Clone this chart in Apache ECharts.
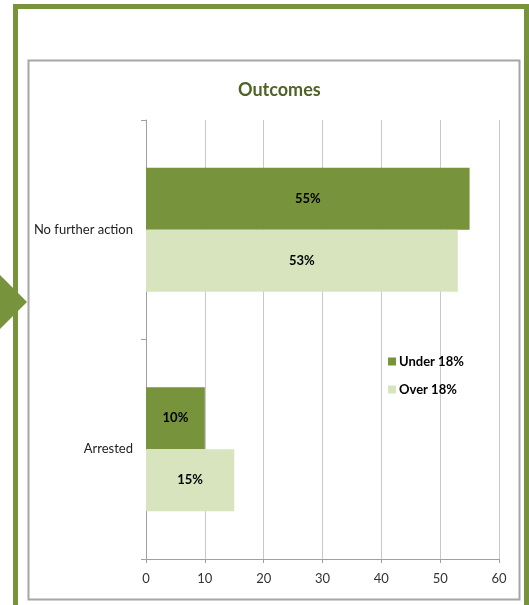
<!DOCTYPE html>
<html>
<head>
<meta charset="utf-8">
<title>Outcomes</title>
<script src="https://cdn.jsdelivr.net/npm/echarts@6/dist/echarts.min.js"></script>
<style>
  html, body { margin: 0; padding: 0; background: #fff; }
  #chart { width: 529px; height: 605px; }
</style>
</head>
<body>
<div id="chart"></div>
<script>
  // data
  var categories = ['No further action', 'Arrested'];
  var under18 = [55, 10];
  var over18 = [53, 15];
  var xTicks = [0, 10, 20, 30, 40, 50, 60];

  var dark = '#77933c';
  var light = '#d7e4bd';

  var myChart = echarts.init(document.getElementById('chart'));

  var labelStyle = {
    show: true,
    position: 'inside',
    color: '#000',
    fontWeight: 'bold',
    fontSize: 13,
    fontFamily: 'Lato',
    formatter: '{c}%'
  };

  myChart.setOption({
    animation: false,
    backgroundColor: '#fff',
    title: {
      text: 'Outcomes',
      left: 233,
      top: 76,
      textStyle: { color: '#4f6228', fontSize: 18, fontWeight: 'bold', fontFamily: 'Lato' }
    },
    // frame, gray chart box and the arrow on the left
    graphic: [
      { type: 'rect', shape: { x: 15.5, y: 6.5, width: 511, height: 640 },
        style: { fill: null, stroke: dark, lineWidth: 5 }, z: -1 },
      { type: 'rect', shape: { x: 28.5, y: 60.5, width: 491, height: 539 },
        style: { fill: null, stroke: '#a6a6a6', lineWidth: 2 }, z: -1 },
      { type: 'polygon', shape: { points: [[0, 275], [27, 302], [0, 329]] },
        style: { fill: dark }, z: 0 }
    ],
    legend: {
      orient: 'vertical',
      left: 383,
      top: 350,
      itemWidth: 8,
      itemHeight: 8,
      itemGap: 15,
      icon: 'rect',
      textStyle: { color: '#000', fontWeight: 'bold', fontSize: 13, fontFamily: 'Lato', padding: [0, 0, 0, -2] },
      data: ['Under 18%', 'Over 18%']
    },
    grid: { left: 146, right: 30, top: 120, bottom: 46, containLabel: false },
    xAxis: {
      type: 'value',
      min: xTicks[0],
      max: xTicks[xTicks.length - 1],
      interval: 10,
      axisLine: { show: true, lineStyle: { color: '#a0a0a0' } },
      axisTick: { show: true, length: 4, lineStyle: { color: '#a0a0a0' } },
      axisLabel: { color: '#333', fontSize: 13, fontFamily: 'Lato', margin: 13 },
      splitLine: { show: true, lineStyle: { color: '#c8c8c8' } }
    },
    yAxis: {
      type: 'category',
      data: categories,
      inverse: true,
      axisLine: { show: true, lineStyle: { color: '#a0a0a0' } },
      axisTick: { show: true, length: 5, lineStyle: { color: '#a0a0a0' } },
      axisLabel: { color: '#222', fontSize: 13, fontFamily: 'Lato', margin: 13 }
    },
    series: [
      {
        name: 'Under 18%',
        type: 'bar',
        data: under18,
        barWidth: 62,
        barGap: '0%',
        itemStyle: { color: dark },
        label: labelStyle
      },
      {
        name: 'Over 18%',
        type: 'bar',
        data: over18,
        barWidth: 62,
        barGap: '0%',
        itemStyle: { color: light },
        label: labelStyle
      }
    ]
  });
</script>
</body>
</html>
